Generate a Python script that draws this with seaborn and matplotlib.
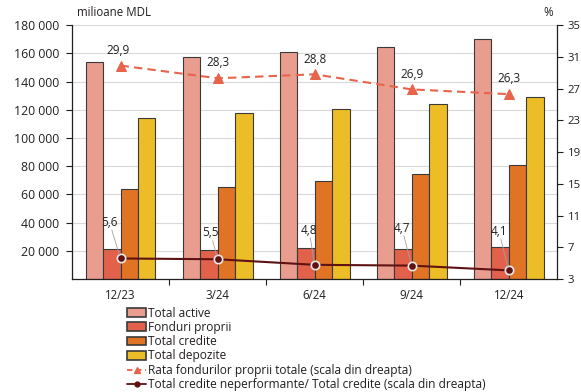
import numpy as np
import pandas as pd
import matplotlib
matplotlib.use('Agg')
import matplotlib.pyplot as plt
from matplotlib.patches import Patch
from matplotlib.lines import Line2D
import seaborn as sns

periods = ['12/23', '3/24', '6/24', '9/24', '12/24']
total_active = [153800, 157500, 161100, 164600, 170100]
fonduri_proprii = [21300, 20600, 22200, 21500, 22900]
total_credite = [63800, 65000, 69500, 74400, 81000]
total_depozite = [114100, 117400, 120500, 124200, 129000]
rata_fonduri = [29.9, 28.3, 28.8, 26.9, 26.3]
npl_ratio = [5.6, 5.5, 4.8, 4.7, 4.1]

bar_names = ['Total active', 'Fonduri proprii', 'Total credite', 'Total depozite']
bar_colors = ['#e99d8f', '#e2614a', '#e07424', '#ecbd26']
rate_label = 'Rata fondurilor proprii totale (scala din dreapta)'
npl_label = 'Total credite neperformante/ Total credite (scala din dreapta)'
rate_color = '#e8634c'
npl_color = '#5e1212'
text_color = '#231f20'

sns.set_style('white')
plt.rcParams['font.family'] = ['Open Sans', 'DejaVu Sans']

df = pd.DataFrame({
    'period': np.repeat(periods, 4),
    'serie': bar_names * len(periods),
    'value': np.ravel(np.column_stack([total_active, fonduri_proprii, total_credite, total_depozite])),
})

fig = plt.figure(figsize=(5.81, 3.92), dpi=100)
ax = fig.add_axes([0.124, 0.288, 0.835, 0.648])

sns.barplot(data=df, x='period', y='value', hue='serie', hue_order=bar_names,
            palette=dict(zip(bar_names, bar_colors)), width=0.72, saturation=1,
            edgecolor='#3a3a3a', linewidth=0.8, legend=False, ax=ax)

ax.set_ylim(0, 180000)
ax.set_xlim(-0.5, len(periods) - 0.5)
ax.set_yticks(np.arange(20000, 180001, 20000))
ax.set_yticklabels([f'{v:,}'.replace(',', ' ') for v in range(20000, 180001, 20000)])
ax.yaxis.grid(True, color='#d9d9d9', linewidth=0.8)
ax.set_axisbelow(True)
ax.set_xlabel('')
ax.set_ylabel('')
ax.tick_params(axis='y', length=4, width=0.8, pad=5, labelsize=8.8, colors=text_color, left=True)
ax.tick_params(axis='x', length=0, pad=7, labelsize=8.3, colors=text_color)
ax.set_xticks(np.arange(0.5, len(periods) - 0.5), minor=True)
ax.tick_params(axis='x', which='minor', length=4, width=0.8, bottom=True, color=text_color)
for s in ['left', 'bottom']:
    ax.spines[s].set_color(text_color)
    ax.spines[s].set_linewidth(0.9)
ax.spines['top'].set_visible(False)
ax.spines['right'].set_visible(False)

ax2 = ax.twinx()
xs = np.arange(len(periods))
sns.lineplot(x=xs, y=rata_fonduri, ax=ax2, color=rate_color, linestyle=(0, (4, 2.5)),
             linewidth=1.5, marker='^', markersize=7, markeredgecolor=rate_color, sort=False)
sns.lineplot(x=xs, y=npl_ratio, ax=ax2, color=npl_color, linewidth=1.5, marker='o',
             markersize=6, markerfacecolor=npl_color, markeredgecolor='#e8e8e8',
             markeredgewidth=1.2, sort=False)
ax2.set_ylim(3, 35)
ax2.set_yticks(np.arange(3, 36, 4))
ax2.tick_params(axis='y', length=4, width=0.8, pad=3.5, labelsize=8.2, colors=text_color, right=True)
for s in ['top', 'left', 'bottom']:
    ax2.spines[s].set_visible(False)
ax2.spines['right'].set_color(text_color)
ax2.spines['right'].set_linewidth(0.9)
ax2.set_xlim(-0.5, len(periods) - 0.5)

for i, v in enumerate(rata_fonduri):
    ax2.annotate(f'{v:.1f}'.replace('.', ','), (i, v), xytext=(-2 if i == 0 else 0, 11),
                 textcoords='offset points', ha='center', va='center',
                 fontsize=8.5, color=text_color)

npl_offsets = [(-8, 26), (-5, 19), (-4, 25), (-7, 27), (-7, 28)]
for i, v in enumerate(npl_ratio):
    ax2.annotate(f'{v:.1f}'.replace('.', ','), (i, v), xytext=npl_offsets[i],
                 textcoords='offset points', ha='center', va='center',
                 fontsize=8.5, color=text_color,
                 bbox=dict(boxstyle='square,pad=0.1', fc='none', ec='none'),
                 arrowprops=dict(arrowstyle='-', color='#a0a0a0', lw=0.6,
                                 shrinkA=0, shrinkB=3))

fig.text(0.133, 0.952, 'milioane MDL', fontsize=8.3, color=text_color, va='bottom')
fig.text(0.935, 0.952, '%', fontsize=8.3, color=text_color, va='bottom')

handles = [Patch(facecolor=c, edgecolor='#3a3a3a', linewidth=1.2) for c in bar_colors]
handles.append(Line2D([], [], color=rate_color, linestyle=(0, (3, 2)), linewidth=1.3,
                      marker='^', markersize=5))
handles.append(Line2D([], [], color=npl_color, linewidth=1.3, marker='o', markersize=3.5))
fig.legend(handles, bar_names + [rate_label, npl_label], loc='upper left',
           bbox_to_anchor=(0.218, 0.218), frameon=False, fontsize=8.6,
           handlelength=1.65, handleheight=0.75, handletextpad=0.15, labelspacing=0.11,
           borderpad=0, borderaxespad=0, labelcolor=text_color)

fig.savefig('out.png', dpi=100)
